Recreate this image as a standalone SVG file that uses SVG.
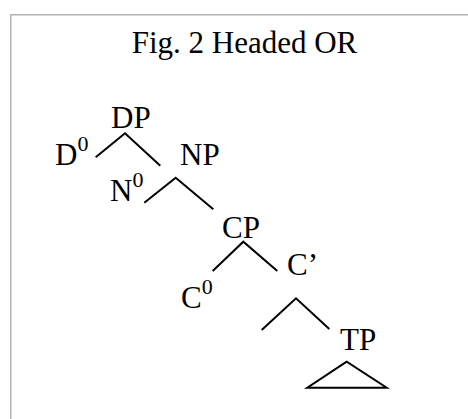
<svg xmlns="http://www.w3.org/2000/svg" width="468" height="419" viewBox="0 0 468 419">
<style>
.frame{fill:none;stroke:#b4b4b4;stroke-width:1.5}
.t{font-family:"Liberation Serif","Times New Roman",serif;font-size:31px;fill:#000}
.sup{font-size:22px}
.e{stroke:#000;stroke-width:2;fill:none;stroke-linecap:butt}
</style>
<rect class="frame" x="10.75" y="14.75" width="470" height="420"/>
<text class="t" x="244.5" y="53" text-anchor="middle" id="title">Fig. 2 Headed OR</text>
<g id="DP"><text class="t" x="111" y="128">DP</text></g>
<g id="D0"><text class="t" x="55" y="165">D<tspan class="sup" dy="-14">0</tspan></text></g>
<g id="NP"><text class="t" x="180" y="165">NP</text></g>
<g id="N0"><text class="t" x="110" y="201">N<tspan class="sup" dy="-14">0</tspan></text></g>
<g id="CP"><text class="t" x="222" y="238">CP</text></g>
<g id="Cbar"><text class="t" x="287" y="275">C’</text></g>
<g id="C0"><text class="t" x="181" y="308">C<tspan class="sup" dy="-14">0</tspan></text></g>
<g id="TP"><text class="t" x="340" y="350">TP</text></g>
<g id="connectors">
<polyline class="e" points="95.7,157.3 125,133.3 160.3,165.7"/>
<polyline class="e" points="144.3,202.7 175.7,177.7 213.3,209.3"/>
<polyline class="e" points="212.7,271 243.3,241.7 277.3,271"/>
<polyline class="e" points="261.7,330 296,298.3 329.3,329"/>
<polygon class="e" points="346.7,361.7 307.3,387.7 386.7,387.7"/>
</g>
</svg>
